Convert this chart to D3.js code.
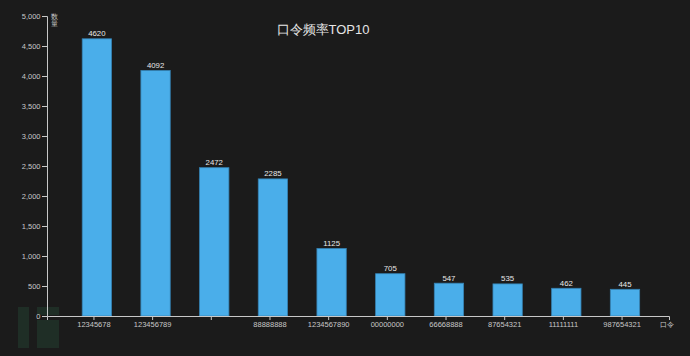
<!DOCTYPE html>
<html><head><meta charset="utf-8">
<script src="https://cdn.jsdelivr.net/npm/d3@7/dist/d3.min.js"></script>
<style>
html,body{margin:0;padding:0;background:#1b1b1b;}
svg{display:block;}
text{font-family:"Liberation Sans","DejaVu Sans",sans-serif;}
</style></head>
<body><svg id="c" width="690" height="356"></svg>
<script>
const categories = ["12345678","123456789","","88888888","1234567890","00000000","66668888","87654321","11111111","987654321"];
const values = [4620,4092,2472,2285,1125,705,547,535,462,445];
const yTicks = [0,500,1000,1500,2000,2500,3000,3500,4000,4500,5000];
const title = "口令频率TOP10";
const yTitle = ["数","量"];
const xTitle = "口令";

const svg = d3.select("#c");
svg.append("rect").attr("width",690).attr("height",356).attr("fill","#1b1b1b");

// watermark shapes (faint)
const wm = svg.append("g");
wm.append("rect").attr("x",18).attr("y",307).attr("width",11).attr("height",41).attr("fill","#1f2e26");
wm.append("rect").attr("x",37).attr("y",307).attr("width",22).attr("height",8).attr("fill","#1f2e26");
wm.append("rect").attr("x",37).attr("y",320).attr("width",22).attr("height",28).attr("fill","#1f2e26");

const x0 = 47, x1 = 669, yTop = 16, yBot = 316;
const x = d3.scaleBand().domain(categories.map((d,i)=>i)).range([x0,x1]).paddingInner(0).paddingOuter(0.3);
const y = d3.scaleLinear().domain([0,5000]).range([yBot,yTop]);

const axisColor = "#c8c8c8";

// bars
const step = x.step();
svg.append("g").selectAll("rect").data(values).join("rect")
  .attr("x",(d,i)=>x(i)+step*0.3)
  .attr("width",step*0.5)
  .attr("y",d=>y(d))
  .attr("height",d=>yBot-y(d))
  .attr("fill","#4aaeea")
  .attr("stroke","#3582b3")
  .attr("stroke-width",0.8);

svg.append("g").selectAll("text").data(values).join("text")
  .attr("x",(d,i)=>x(i)+step*0.55)
  .attr("y",d=>y(d)-2.5)
  .attr("text-anchor","middle")
  .attr("font-size",7.8)
  .attr("fill","#e8e8e8")
  .text(d=>d);

// y axis
const ya = svg.append("g").attr("transform",`translate(${x0},0)`)
  .call(d3.axisLeft(y).tickValues(yTicks).tickFormat(d3.format(",")).tickSize(5).tickSizeOuter(5));
ya.selectAll("path,line").attr("stroke",axisColor);
ya.selectAll("text").attr("fill",axisColor).attr("font-size",7.5).attr("font-family","Liberation Sans, sans-serif").attr("x",-6.5);

// x axis
const xa = svg.append("g").attr("transform",`translate(0,${yBot})`)
  .call(d3.axisBottom(x).tickFormat(i=>categories[i]).tickSize(4).tickSizeOuter(4));
xa.selectAll("path,line").attr("stroke",axisColor);
xa.selectAll("text").attr("fill",axisColor).attr("font-size",7.5).attr("font-family","Liberation Sans, sans-serif").attr("y",6);

// titles
svg.append("text").attr("x",323).attr("y",34).attr("text-anchor","middle")
  .attr("font-size",13).attr("fill","#e6e6e6").text(title);

svg.append("text").attr("x",51).attr("y",19).attr("font-size",6.5).attr("fill",axisColor)
  .selectAll("tspan").data(yTitle).join("tspan").attr("x",51).attr("dy",(d,i)=>i?7:0).text(d=>d);

svg.append("text").attr("x",660).attr("y",327).attr("font-size",7).attr("fill",axisColor).text(xTitle);
</script></body></html>
